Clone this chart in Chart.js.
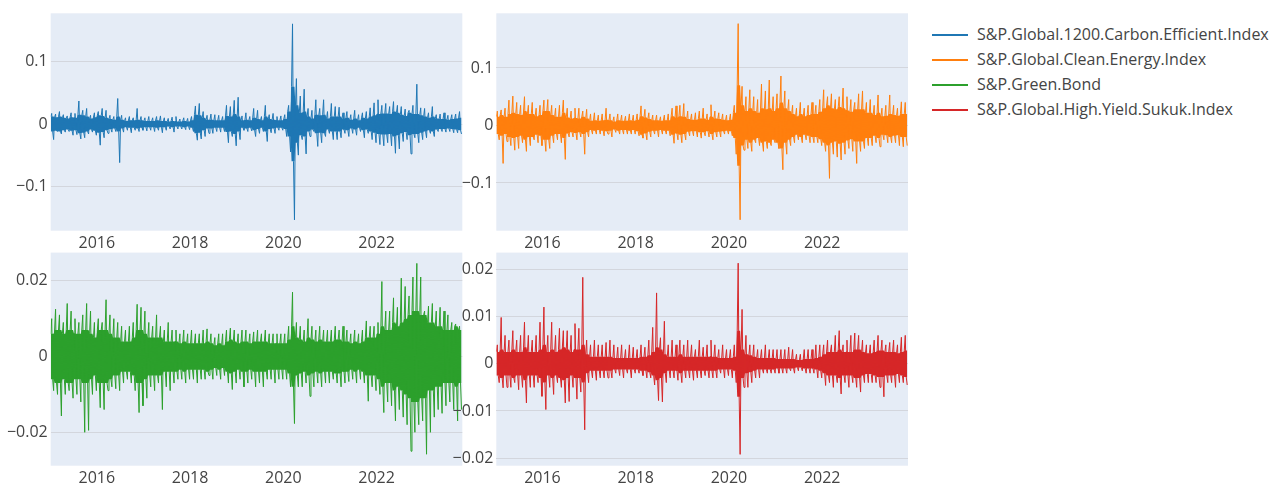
<!DOCTYPE html>
<html>
<head>
<meta charset="utf-8">
<script src="https://cdn.jsdelivr.net/npm/chart.js@4.4.1/dist/chart.umd.min.js"></script>
<style>
  html, body { margin: 0; padding: 0; background: #ffffff; }
  body { width: 1287px; height: 484px; position: relative; overflow: hidden; font-family: "Open Sans", sans-serif; }
  canvas { position: absolute; }
  #legend { position: absolute; left: 0; top: 0; }
  .lg-line { position: absolute; height: 2px; width: 36px; }
  .lg-text { position: absolute; font-size: 16px; color: #444; white-space: nowrap; line-height: 20px; }
</style>
</head>
<body>
<canvas id="c1"></canvas>
<canvas id="c2"></canvas>
<canvas id="c3"></canvas>
<canvas id="c4"></canvas>
<div id="legend"></div>
<script>
// ---------------- DATA (monthly, Jan 2015 .. Oct 2023) ----------------
const seriesNames = [
  "S&P.Global.1200.Carbon.Efficient.Index",
  "S&P.Global.Clean.Energy.Index",
  "S&P.Green.Bond",
  "S&P.Global.High.Yield.Sukuk.Index"
];
const seriesColors = ["#1f77b4", "#ff7f0e", "#2ca02c", "#d62728"];
const startYear = 2015;
const xTicks = [2016, 2018, 2020, 2022];

// Carbon Efficient: monthly max, min and dense-band half-width
const carbonHi = [
  0.017,0.016,0.02,0.015,0.013,0.018,0.017,0.037,0.022,0.025,0.014,0.018,
  0.02,0.025,0.022,0.014,0.012,0.041,0.014,0.01,0.012,0.01,0.025,0.012,
  0.01,0.012,0.01,0.012,0.013,0.01,0.009,0.011,0.012,0.008,0.01,0.009,
  0.012,0.029,0.033,0.02,0.014,0.016,0.015,0.014,0.012,0.03,0.028,0.038,
  0.043,0.013,0.018,0.012,0.025,0.022,0.012,0.03,0.015,0.017,0.012,0.013,
  0.015,0.03,0.161,0.073,0.045,0.056,0.025,0.022,0.039,0.025,0.039,0.02,
  0.033,0.028,0.027,0.018,0.02,0.015,0.022,0.015,0.018,0.02,0.026,0.034,
  0.039,0.03,0.033,0.028,0.036,0.03,0.028,0.024,0.022,0.03,0.064,0.026,
  0.025,0.018,0.028,0.015,0.016,0.018,0.014,0.015,0.016,0.02
];
const carbonLo = [
  -0.025,-0.012,-0.016,-0.013,-0.012,-0.018,-0.017,-0.024,-0.022,-0.016,-0.013,-0.018,
  -0.034,-0.022,-0.015,-0.013,-0.012,-0.062,-0.013,-0.01,-0.014,-0.01,-0.012,-0.01,
  -0.011,-0.01,-0.012,-0.01,-0.014,-0.01,-0.008,-0.013,-0.008,-0.008,-0.009,-0.009,
  -0.012,-0.026,-0.024,-0.02,-0.015,-0.015,-0.012,-0.013,-0.012,-0.03,-0.02,-0.035,
  -0.025,-0.01,-0.012,-0.011,-0.02,-0.015,-0.012,-0.028,-0.014,-0.015,-0.01,-0.01,
  -0.02,-0.045,-0.154,-0.05,-0.025,-0.048,-0.02,-0.012,-0.036,-0.03,-0.02,-0.015,
  -0.025,-0.025,-0.022,-0.015,-0.02,-0.015,-0.018,-0.012,-0.022,-0.015,-0.025,-0.03,
  -0.033,-0.035,-0.03,-0.035,-0.047,-0.04,-0.028,-0.025,-0.048,-0.022,-0.03,-0.025,
  -0.022,-0.015,-0.02,-0.012,-0.012,-0.013,-0.012,-0.014,-0.014,-0.016
];
const carbonCore = [
  0.012,0.011,0.012,0.01,0.009,0.011,0.01,0.015,0.014,0.012,0.009,0.011,
  0.014,0.013,0.01,0.008,0.007,0.012,0.007,0.005,0.006,0.006,0.007,0.006,
  0.005,0.005,0.005,0.006,0.005,0.005,0.004,0.005,0.004,0.004,0.005,0.004,
  0.006,0.015,0.014,0.01,0.007,0.007,0.006,0.006,0.006,0.013,0.012,0.016,
  0.012,0.006,0.007,0.006,0.01,0.008,0.006,0.012,0.008,0.007,0.006,0.006,
  0.008,0.02,0.06,0.03,0.018,0.02,0.012,0.009,0.015,0.014,0.015,0.009,
  0.012,0.012,0.012,0.009,0.01,0.007,0.009,0.006,0.01,0.009,0.012,0.014,
  0.016,0.017,0.017,0.016,0.02,0.018,0.015,0.013,0.018,0.016,0.016,0.014,
  0.012,0.01,0.012,0.009,0.008,0.008,0.007,0.008,0.009,0.01
];

// Clean Energy
const cleanHi = [
  0.025,0.027,0.03,0.044,0.051,0.04,0.035,0.05,0.035,0.04,0.03,0.035,
  0.044,0.045,0.035,0.03,0.035,0.044,0.03,0.025,0.03,0.03,0.025,0.028,
  0.02,0.022,0.018,0.02,0.03,0.02,0.015,0.02,0.018,0.016,0.02,0.018,
  0.02,0.034,0.028,0.022,0.018,0.018,0.015,0.018,0.02,0.03,0.034,0.035,
  0.038,0.025,0.02,0.022,0.025,0.03,0.02,0.036,0.025,0.022,0.02,0.018,
  0.02,0.035,0.177,0.068,0.05,0.062,0.05,0.045,0.072,0.06,0.079,0.05,
  0.055,0.086,0.06,0.045,0.035,0.03,0.04,0.03,0.035,0.04,0.035,0.045,
  0.062,0.05,0.055,0.045,0.05,0.065,0.05,0.045,0.04,0.055,0.06,0.04,
  0.045,0.035,0.053,0.03,0.035,0.053,0.035,0.03,0.041,0.04
];
const cleanLo = [
  -0.025,-0.066,-0.028,-0.035,-0.043,-0.04,-0.03,-0.045,-0.035,-0.025,-0.03,-0.035,
  -0.045,-0.04,-0.03,-0.025,-0.03,-0.059,-0.02,-0.02,-0.025,-0.02,-0.05,-0.02,
  -0.015,-0.015,-0.015,-0.018,-0.015,-0.02,-0.012,-0.015,-0.015,-0.015,-0.015,-0.015,
  -0.018,-0.022,-0.025,-0.02,-0.015,-0.02,-0.015,-0.015,-0.018,-0.031,-0.025,-0.03,
  -0.025,-0.018,-0.018,-0.02,-0.022,-0.018,-0.02,-0.025,-0.02,-0.02,-0.015,-0.015,
  -0.018,-0.05,-0.164,-0.043,-0.04,-0.045,-0.03,-0.035,-0.045,-0.04,-0.035,-0.03,
  -0.04,-0.077,-0.05,-0.035,-0.03,-0.025,-0.03,-0.025,-0.03,-0.03,-0.03,-0.035,
  -0.045,-0.092,-0.05,-0.055,-0.06,-0.05,-0.04,-0.045,-0.066,-0.045,-0.04,-0.035,
  -0.035,-0.03,-0.037,-0.025,-0.03,-0.03,-0.03,-0.035,-0.037,-0.035
];
const cleanCore = [
  0.015,0.018,0.015,0.02,0.022,0.02,0.018,0.025,0.02,0.02,0.016,0.018,
  0.025,0.025,0.018,0.015,0.015,0.022,0.014,0.012,0.013,0.012,0.015,0.012,
  0.008,0.009,0.008,0.009,0.01,0.009,0.007,0.009,0.008,0.008,0.009,0.008,
  0.01,0.016,0.014,0.011,0.009,0.009,0.008,0.009,0.009,0.016,0.014,0.016,
  0.015,0.011,0.01,0.01,0.012,0.012,0.01,0.015,0.012,0.011,0.01,0.009,
  0.01,0.022,0.07,0.035,0.025,0.03,0.025,0.022,0.03,0.028,0.03,0.025,
  0.03,0.04,0.03,0.025,0.02,0.016,0.02,0.016,0.018,0.02,0.02,0.024,
  0.03,0.035,0.03,0.028,0.032,0.03,0.026,0.024,0.028,0.028,0.028,0.022,
  0.022,0.018,0.022,0.016,0.017,0.02,0.018,0.017,0.02,0.02
];

// Green Bond
const greenHi = [
  0.01,0.0125,0.011,0.009,0.014,0.012,0.01,0.009,0.011,0.014,0.012,0.009,
  0.01,0.009,0.015,0.011,0.01,0.009,0.008,0.007,0.008,0.009,0.0138,0.013,
  0.012,0.009,0.008,0.011,0.008,0.007,0.009,0.007,0.007,0.006,0.007,0.006,
  0.007,0.006,0.006,0.007,0.0073,0.006,0.005,0.006,0.006,0.007,0.0075,0.007,
  0.006,0.007,0.007,0.006,0.0065,0.007,0.006,0.007,0.006,0.006,0.006,0.006,
  0.006,0.008,0.017,0.009,0.008,0.007,0.01,0.008,0.007,0.008,0.007,0.007,
  0.007,0.008,0.007,0.008,0.007,0.006,0.007,0.006,0.007,0.0094,0.008,0.008,
  0.009,0.0198,0.012,0.012,0.0155,0.013,0.0207,0.0185,0.016,0.021,0.0246,0.021,
  0.012,0.0133,0.014,0.012,0.013,0.012,0.011,0.009,0.0086,0.008
];
const greenLo = [
  -0.009,-0.01,-0.0157,-0.01,-0.009,-0.011,-0.01,-0.012,-0.02,-0.0195,-0.01,-0.009,
  -0.0135,-0.014,-0.009,-0.008,-0.0085,-0.009,-0.007,-0.006,-0.007,-0.009,-0.0148,-0.013,
  -0.011,-0.008,-0.009,-0.007,-0.014,-0.008,-0.009,-0.007,-0.006,-0.006,-0.007,-0.006,
  -0.006,-0.007,-0.006,-0.006,-0.005,-0.006,-0.005,-0.006,-0.005,-0.007,-0.0087,-0.007,
  -0.006,-0.008,-0.007,-0.006,-0.008,-0.007,-0.008,-0.006,-0.006,-0.007,-0.006,-0.006,
  -0.006,-0.008,-0.0177,-0.008,-0.008,-0.007,-0.0105,-0.008,-0.007,-0.008,-0.007,-0.007,
  -0.006,-0.007,-0.008,-0.007,-0.0066,-0.006,-0.007,-0.006,-0.007,-0.0118,-0.008,-0.009,
  -0.01,-0.0148,-0.012,-0.013,-0.017,-0.014,-0.016,-0.018,-0.025,-0.02,-0.018,-0.017,
  -0.0258,-0.02,-0.016,-0.014,-0.015,-0.013,-0.012,-0.014,-0.017,-0.014
];
const greenCore = [
  0.006,0.007,0.007,0.006,0.007,0.007,0.006,0.006,0.007,0.007,0.006,0.005,
  0.007,0.007,0.007,0.006,0.005,0.005,0.004,0.004,0.004,0.005,0.007,0.007,
  0.006,0.005,0.005,0.005,0.005,0.004,0.004,0.004,0.004,0.0035,0.004,0.0035,
  0.0035,0.0035,0.0035,0.0035,0.004,0.0035,0.003,0.0035,0.003,0.004,0.0045,0.004,
  0.0035,0.004,0.004,0.0035,0.004,0.004,0.004,0.004,0.0035,0.0035,0.0035,0.0035,
  0.0035,0.0045,0.008,0.005,0.0045,0.004,0.005,0.0045,0.004,0.0045,0.004,0.004,
  0.004,0.0045,0.0045,0.004,0.004,0.0035,0.004,0.0035,0.004,0.005,0.005,0.005,
  0.006,0.008,0.007,0.007,0.009,0.008,0.009,0.01,0.011,0.012,0.012,0.011,
  0.011,0.009,0.009,0.008,0.008,0.007,0.007,0.007,0.008,0.007
];

// High Yield Sukuk
const sukukHi = [
  0.004,0.0098,0.006,0.005,0.007,0.005,0.006,0.0088,0.006,0.005,0.006,0.0088,
  0.012,0.006,0.0088,0.006,0.0075,0.007,0.007,0.006,0.0085,0.0075,0.0183,0.005,
  0.004,0.005,0.004,0.004,0.0045,0.005,0.004,0.0035,0.004,0.003,0.004,0.0035,
  0.003,0.004,0.0035,0.005,0.0077,0.015,0.0055,0.009,0.004,0.005,0.004,0.005,
  0.004,0.005,0.004,0.003,0.005,0.0035,0.004,0.005,0.004,0.003,0.004,0.003,
  0.003,0.004,0.0213,0.0115,0.006,0.004,0.004,0.003,0.003,0.004,0.003,0.003,
  0.003,0.003,0.003,0.0035,0.003,0.002,0.002,0.003,0.003,0.003,0.004,0.004,
  0.004,0.005,0.004,0.006,0.007,0.004,0.005,0.006,0.0065,0.006,0.005,0.004,
  0.004,0.005,0.006,0.005,0.004,0.0045,0.005,0.004,0.0056,0.006
];
const sukukLo = [
  -0.004,-0.0051,-0.005,-0.005,-0.004,-0.0055,-0.005,-0.0083,-0.005,-0.005,-0.004,-0.0069,
  -0.0097,-0.005,-0.0065,-0.004,-0.005,-0.0083,-0.008,-0.005,-0.0075,-0.006,-0.014,-0.004,
  -0.003,-0.0035,-0.003,-0.003,-0.003,-0.003,-0.002,-0.0025,-0.003,-0.002,-0.003,-0.002,
  -0.002,-0.0025,-0.003,-0.003,-0.0045,-0.0078,-0.0081,-0.004,-0.003,-0.003,-0.0035,-0.004,
  -0.003,-0.003,-0.0035,-0.003,-0.003,-0.0025,-0.003,-0.003,-0.003,-0.002,-0.003,-0.0025,
  -0.003,-0.004,-0.0192,-0.005,-0.005,-0.004,-0.003,-0.003,-0.002,-0.002,-0.002,-0.002,
  -0.002,-0.002,-0.002,-0.0015,-0.002,-0.0015,-0.0015,-0.002,-0.002,-0.002,-0.003,-0.003,
  -0.0046,-0.004,-0.005,-0.004,-0.0064,-0.004,-0.005,-0.004,-0.005,-0.006,-0.004,-0.004,
  -0.004,-0.004,-0.005,-0.007,-0.004,-0.004,-0.005,-0.004,-0.004,-0.0045
];
const sukukCore = [
  0.0025,0.003,0.0025,0.0025,0.003,0.0025,0.0025,0.0035,0.0025,0.0025,0.0025,0.003,
  0.004,0.0025,0.003,0.0025,0.003,0.0035,0.003,0.0025,0.003,0.003,0.004,0.002,
  0.0015,0.0015,0.0015,0.0015,0.0015,0.0015,0.0012,0.0012,0.0012,0.0012,0.0012,0.0012,
  0.0012,0.0015,0.0015,0.0018,0.0025,0.0035,0.003,0.002,0.0015,0.0015,0.0015,0.002,
  0.0015,0.0015,0.0015,0.0015,0.0015,0.0015,0.0015,0.0015,0.0015,0.0012,0.0012,0.0012,
  0.0012,0.0015,0.007,0.003,0.002,0.0018,0.0015,0.0012,0.0012,0.0012,0.0012,0.0012,
  0.001,0.001,0.001,0.001,0.001,0.0008,0.0008,0.001,0.001,0.001,0.0012,0.0015,
  0.002,0.0025,0.0025,0.0025,0.003,0.0025,0.0025,0.0025,0.003,0.003,0.0025,0.0022,
  0.0022,0.0025,0.0028,0.0028,0.0025,0.0025,0.0025,0.0022,0.0025,0.0028
];

// y tick values per panel
const yTicksCarbon = [-0.1, 0, 0.1];
const yTicksClean = [-0.1, 0, 0.1];
const yTicksGreen = [-0.02, 0, 0.02];
const yTicksSukuk = [-0.02, -0.01, 0, 0.01, 0.02];

// ---------------- RENDERING ----------------
Chart.defaults.font.family = '"Open Sans", sans-serif';
Chart.defaults.font.size = 16;
Chart.defaults.color = '#444';

const SUB = 4;
function monthX(m, k) { return startYear + (m + (k + 0.5) / SUB) / 12; }

function spikePoints(hi, lo, core) {
  const pts = [];
  for (let m = 0; m < hi.length; m++) {
    const vals = [core[m], hi[m], -core[m], lo[m]];
    for (let k = 0; k < SUB; k++) pts.push({ x: monthX(m, k), y: vals[k] });
  }
  return pts;
}
function bandPoints(core, sign) {
  const pts = [];
  for (let m = 0; m < core.length; m++) {
    pts.push({ x: monthX(m, 0), y: sign * core[m] });
    pts.push({ x: monthX(m, 3), y: sign * core[m] });
  }
  return pts;
}

function fmt(v) {
  if (v === 0) return '0';
  return (v < 0 ? '\u2212' : '') + String(Math.abs(v));
}

const bgPlugin = {
  id: 'plotbg',
  beforeDraw(chart) {
    const a = chart.chartArea, c = chart.ctx;
    c.save();
    c.fillStyle = '#E5ECF6';
    c.fillRect(a.left, a.top, a.right - a.left, a.bottom - a.top);
    c.restore();
  }
};

function makePanel(id, box, plot, hi, lo, core, color, yMin, yMax, yTicks) {
  const cv = document.getElementById(id);
  cv.width = box.w; cv.height = box.h;
  cv.style.left = box.x + 'px'; cv.style.top = box.y + 'px';
  cv.style.width = box.w + 'px'; cv.style.height = box.h + 'px';
  const yW = plot.left - box.x;
  const xH = box.y + box.h - plot.bottom;
  return new Chart(cv.getContext('2d'), {
    type: 'line',
    data: {
      datasets: [
        { data: spikePoints(hi, lo, core), borderColor: color, borderWidth: 1, pointRadius: 0, tension: 0, borderJoinStyle: 'round', fill: false },
        { data: bandPoints(core, 1), borderWidth: 0, borderColor: color, backgroundColor: color, pointRadius: 0, tension: 0, fill: '+1' },
        { data: bandPoints(core, -1), borderWidth: 0, borderColor: color, pointRadius: 0, tension: 0, fill: false }
      ]
    },
    options: {
      responsive: false, animation: false, devicePixelRatio: 1,
      layout: { padding: { left: 0, top: plot.top - box.y, right: box.x + box.w - plot.right, bottom: 0 } },
      plugins: { legend: { display: false }, tooltip: { enabled: false } },
      scales: {
        x: {
          type: 'linear', min: 2015.01, max: 2023.84,
          afterFit(s) { s.height = xH; },
          afterBuildTicks(s) { s.ticks = xTicks.map(v => ({ value: v })); },
          ticks: { padding: 3, maxRotation: 0, autoSkip: false, callback: v => String(v) },
          grid: { display: false, drawTicks: false },
          border: { display: false }
        },
        y: {
          type: 'linear', min: yMin, max: yMax,
          afterFit(s) { s.width = yW; },
          afterBuildTicks(s) { s.ticks = yTicks.map(v => ({ value: v })); },
          ticks: { padding: 3, autoSkip: false, callback: v => fmt(v) },
          grid: { color: '#d3d6dd', lineWidth: 1, drawTicks: false },
          border: { display: false }
        }
      }
    },
    plugins: [bgPlugin]
  });
}

makePanel('c1', { x: 0, y: 0, w: 470, h: 258 }, { left: 50.7, top: 13.3, right: 462.3, bottom: 230.7 },
  carbonHi, carbonLo, carbonCore, seriesColors[0], -0.1715, 0.178, yTicksCarbon);
makePanel('c2', { x: 452, y: 0, w: 464, h: 258 }, { left: 496.3, top: 13.3, right: 908, bottom: 230.7 },
  cleanHi, cleanLo, cleanCore, seriesColors[1], -0.183, 0.195, yTicksClean);
makePanel('c3', { x: 0, y: 240, w: 470, h: 244 }, { left: 50.7, top: 249, right: 462.3, bottom: 465.7 },
  greenHi, greenLo, greenCore, seriesColors[2], -0.02883, 0.02745, yTicksGreen);
makePanel('c4', { x: 448, y: 240, w: 468, h: 244 }, { left: 496.3, top: 249, right: 908, bottom: 465.7 },
  sukukHi, sukukLo, sukukCore, seriesColors[3], -0.0216, 0.02354, yTicksSukuk);

// legend (HTML, from series names/colours)
const lg = document.getElementById('legend');
seriesNames.forEach((name, i) => {
  const cy = 35 + i * 25;
  const line = document.createElement('div');
  line.className = 'lg-line';
  line.style.left = '932px'; line.style.top = (cy - 1) + 'px';
  line.style.background = seriesColors[i];
  const txt = document.createElement('div');
  txt.className = 'lg-text';
  txt.style.left = '977px'; txt.style.top = (cy - 11) + 'px';
  txt.textContent = name;
  lg.appendChild(line); lg.appendChild(txt);
});
</script>
</body>
</html>
